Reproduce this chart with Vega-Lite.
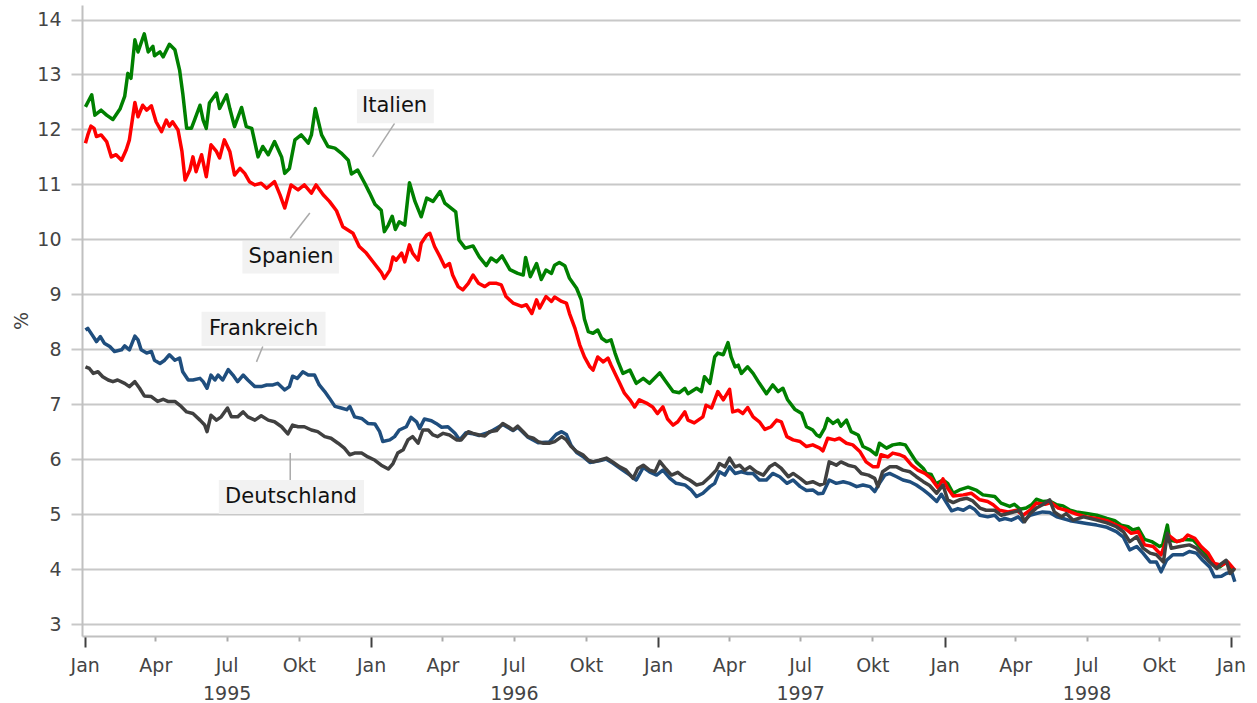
{
"$schema": "https://vega.github.io/schema/vega-lite/v6.json",
"width": 1158, "height": 631,
"autosize": {"type": "none"},
"padding": {"left": 82, "top": 5, "right": 17, "bottom": 67},
"background": "white",
"config": {"view": {"stroke": null}, "font": "DejaVu Sans"},
"datasets": {
"series": [
{"s":"Italien","date":"1995-01-02","value":12.41},{"s":"Italien","date":"1995-01-10","value":12.63},{"s":"Italien","date":"1995-01-14","value":12.26},{"s":"Italien","date":"1995-01-22","value":12.35},{"s":"Italien","date":"1995-01-29","value":12.26},{"s":"Italien","date":"1995-02-06","value":12.18},{"s":"Italien","date":"1995-02-15","value":12.37},{"s":"Italien","date":"1995-02-21","value":12.6},{"s":"Italien","date":"1995-02-25","value":13.02},{"s":"Italien","date":"1995-03-01","value":12.93},{"s":"Italien","date":"1995-03-06","value":13.63},{"s":"Italien","date":"1995-03-10","value":13.41},{"s":"Italien","date":"1995-03-18","value":13.74},{"s":"Italien","date":"1995-03-23","value":13.41},{"s":"Italien","date":"1995-03-29","value":13.51},{"s":"Italien","date":"1995-03-31","value":13.34},{"s":"Italien","date":"1995-04-07","value":13.41},{"s":"Italien","date":"1995-04-11","value":13.32},{"s":"Italien","date":"1995-04-19","value":13.55},{"s":"Italien","date":"1995-04-26","value":13.45},{"s":"Italien","date":"1995-05-02","value":13.08},{"s":"Italien","date":"1995-05-06","value":12.66},{"s":"Italien","date":"1995-05-11","value":12.02},{"s":"Italien","date":"1995-05-17","value":12.02},{"s":"Italien","date":"1995-05-21","value":12.17},{"s":"Italien","date":"1995-05-28","value":12.44},{"s":"Italien","date":"1995-06-01","value":12.17},{"s":"Italien","date":"1995-06-05","value":12.02},{"s":"Italien","date":"1995-06-09","value":12.48},{"s":"Italien","date":"1995-06-18","value":12.66},{"s":"Italien","date":"1995-06-22","value":12.38},{"s":"Italien","date":"1995-07-01","value":12.63},{"s":"Italien","date":"1995-07-05","value":12.38},{"s":"Italien","date":"1995-07-11","value":12.05},{"s":"Italien","date":"1995-07-20","value":12.4},{"s":"Italien","date":"1995-07-26","value":12.05},{"s":"Italien","date":"1995-08-02","value":12.02},{"s":"Italien","date":"1995-08-10","value":11.5},{"s":"Italien","date":"1995-08-16","value":11.69},{"s":"Italien","date":"1995-08-23","value":11.54},{"s":"Italien","date":"1995-08-31","value":11.78},{"s":"Italien","date":"1995-09-09","value":11.5},{"s":"Italien","date":"1995-09-13","value":11.2},{"s":"Italien","date":"1995-09-19","value":11.29},{"s":"Italien","date":"1995-09-26","value":11.81},{"s":"Italien","date":"1995-10-04","value":11.9},{"s":"Italien","date":"1995-10-13","value":11.75},{"s":"Italien","date":"1995-10-17","value":11.9},{"s":"Italien","date":"1995-10-22","value":12.38},{"s":"Italien","date":"1995-10-30","value":11.9},{"s":"Italien","date":"1995-11-07","value":11.69},{"s":"Italien","date":"1995-11-16","value":11.66},{"s":"Italien","date":"1995-11-24","value":11.57},{"s":"Italien","date":"1995-12-03","value":11.44},{"s":"Italien","date":"1995-12-07","value":11.19},{"s":"Italien","date":"1995-12-15","value":11.26},{"s":"Italien","date":"1995-12-24","value":11.02},{"s":"Italien","date":"1995-12-30","value":10.85},{"s":"Italien","date":"1996-01-06","value":10.64},{"s":"Italien","date":"1996-01-14","value":10.53},{"s":"Italien","date":"1996-01-18","value":10.14},{"s":"Italien","date":"1996-01-23","value":10.26},{"s":"Italien","date":"1996-01-28","value":10.42},{"s":"Italien","date":"1996-02-01","value":10.18},{"s":"Italien","date":"1996-02-06","value":10.32},{"s":"Italien","date":"1996-02-13","value":10.26},{"s":"Italien","date":"1996-02-19","value":11.03},{"s":"Italien","date":"1996-02-26","value":10.69},{"s":"Italien","date":"1996-03-05","value":10.41},{"s":"Italien","date":"1996-03-12","value":10.75},{"s":"Italien","date":"1996-03-20","value":10.69},{"s":"Italien","date":"1996-03-29","value":10.87},{"s":"Italien","date":"1996-04-04","value":10.66},{"s":"Italien","date":"1996-04-10","value":10.59},{"s":"Italien","date":"1996-04-18","value":10.5},{"s":"Italien","date":"1996-04-22","value":9.99},{"s":"Italien","date":"1996-04-30","value":9.84},{"s":"Italien","date":"1996-05-10","value":9.88},{"s":"Italien","date":"1996-05-18","value":9.68},{"s":"Italien","date":"1996-05-27","value":9.52},{"s":"Italien","date":"1996-06-02","value":9.66},{"s":"Italien","date":"1996-06-09","value":9.59},{"s":"Italien","date":"1996-06-16","value":9.7},{"s":"Italien","date":"1996-06-26","value":9.45},{"s":"Italien","date":"1996-07-06","value":9.38},{"s":"Italien","date":"1996-07-13","value":9.35},{"s":"Italien","date":"1996-07-16","value":9.67},{"s":"Italien","date":"1996-07-22","value":9.32},{"s":"Italien","date":"1996-07-30","value":9.56},{"s":"Italien","date":"1996-08-05","value":9.27},{"s":"Italien","date":"1996-08-11","value":9.44},{"s":"Italien","date":"1996-08-18","value":9.38},{"s":"Italien","date":"1996-08-22","value":9.53},{"s":"Italien","date":"1996-08-28","value":9.58},{"s":"Italien","date":"1996-09-04","value":9.52},{"s":"Italien","date":"1996-09-10","value":9.29},{"s":"Italien","date":"1996-09-19","value":9.11},{"s":"Italien","date":"1996-09-25","value":8.9},{"s":"Italien","date":"1996-09-29","value":8.55},{"s":"Italien","date":"1996-10-04","value":8.32},{"s":"Italien","date":"1996-10-10","value":8.29},{"s":"Italien","date":"1996-10-16","value":8.35},{"s":"Italien","date":"1996-10-21","value":8.2},{"s":"Italien","date":"1996-10-27","value":8.14},{"s":"Italien","date":"1996-11-02","value":8.17},{"s":"Italien","date":"1996-11-07","value":7.93},{"s":"Italien","date":"1996-11-11","value":7.77},{"s":"Italien","date":"1996-11-17","value":7.56},{"s":"Italien","date":"1996-11-26","value":7.62},{"s":"Italien","date":"1996-12-04","value":7.38},{"s":"Italien","date":"1996-12-13","value":7.47},{"s":"Italien","date":"1996-12-21","value":7.38},{"s":"Italien","date":"1997-01-03","value":7.57},{"s":"Italien","date":"1997-01-11","value":7.41},{"s":"Italien","date":"1997-01-20","value":7.23},{"s":"Italien","date":"1997-01-28","value":7.21},{"s":"Italien","date":"1997-02-04","value":7.29},{"s":"Italien","date":"1997-02-08","value":7.19},{"s":"Italien","date":"1997-02-19","value":7.29},{"s":"Italien","date":"1997-02-25","value":7.23},{"s":"Italien","date":"1997-03-01","value":7.5},{"s":"Italien","date":"1997-03-08","value":7.38},{"s":"Italien","date":"1997-03-14","value":7.86},{"s":"Italien","date":"1997-03-18","value":7.93},{"s":"Italien","date":"1997-03-25","value":7.9},{"s":"Italien","date":"1997-03-31","value":8.12},{"s":"Italien","date":"1997-04-04","value":7.86},{"s":"Italien","date":"1997-04-09","value":7.68},{"s":"Italien","date":"1997-04-13","value":7.71},{"s":"Italien","date":"1997-04-17","value":7.56},{"s":"Italien","date":"1997-04-25","value":7.68},{"s":"Italien","date":"1997-05-02","value":7.56},{"s":"Italien","date":"1997-05-10","value":7.38},{"s":"Italien","date":"1997-05-19","value":7.19},{"s":"Italien","date":"1997-05-27","value":7.35},{"s":"Italien","date":"1997-06-03","value":7.23},{"s":"Italien","date":"1997-06-09","value":7.29},{"s":"Italien","date":"1997-06-15","value":7.08},{"s":"Italien","date":"1997-06-24","value":6.91},{"s":"Italien","date":"1997-07-03","value":6.83},{"s":"Italien","date":"1997-07-09","value":6.59},{"s":"Italien","date":"1997-07-17","value":6.53},{"s":"Italien","date":"1997-07-22","value":6.44},{"s":"Italien","date":"1997-07-26","value":6.41},{"s":"Italien","date":"1997-08-01","value":6.56},{"s":"Italien","date":"1997-08-05","value":6.74},{"s":"Italien","date":"1997-08-12","value":6.65},{"s":"Italien","date":"1997-08-18","value":6.71},{"s":"Italien","date":"1997-08-22","value":6.6},{"s":"Italien","date":"1997-08-29","value":6.71},{"s":"Italien","date":"1997-09-04","value":6.5},{"s":"Italien","date":"1997-09-13","value":6.44},{"s":"Italien","date":"1997-09-19","value":6.23},{"s":"Italien","date":"1997-09-28","value":6.17},{"s":"Italien","date":"1997-10-06","value":6.08},{"s":"Italien","date":"1997-10-10","value":6.29},{"s":"Italien","date":"1997-10-19","value":6.2},{"s":"Italien","date":"1997-10-27","value":6.26},{"s":"Italien","date":"1997-11-05","value":6.28},{"s":"Italien","date":"1997-11-12","value":6.26},{"s":"Italien","date":"1997-11-20","value":6.08},{"s":"Italien","date":"1997-11-26","value":5.95},{"s":"Italien","date":"1997-12-05","value":5.83},{"s":"Italien","date":"1997-12-09","value":5.74},{"s":"Italien","date":"1997-12-15","value":5.72},{"s":"Italien","date":"1997-12-21","value":5.55},{"s":"Italien","date":"1997-12-30","value":5.62},{"s":"Italien","date":"1998-01-05","value":5.56},{"s":"Italien","date":"1998-01-12","value":5.38},{"s":"Italien","date":"1998-01-20","value":5.44},{"s":"Italien","date":"1998-01-31","value":5.49},{"s":"Italien","date":"1998-02-11","value":5.43},{"s":"Italien","date":"1998-02-19","value":5.35},{"s":"Italien","date":"1998-03-06","value":5.32},{"s":"Italien","date":"1998-03-14","value":5.2},{"s":"Italien","date":"1998-03-25","value":5.14},{"s":"Italien","date":"1998-03-31","value":5.18},{"s":"Italien","date":"1998-04-07","value":5.09},{"s":"Italien","date":"1998-04-15","value":5.11},{"s":"Italien","date":"1998-04-22","value":5.17},{"s":"Italien","date":"1998-04-28","value":5.27},{"s":"Italien","date":"1998-05-06","value":5.23},{"s":"Italien","date":"1998-05-15","value":5.24},{"s":"Italien","date":"1998-05-24","value":5.17},{"s":"Italien","date":"1998-06-01","value":5.15},{"s":"Italien","date":"1998-06-10","value":5.07},{"s":"Italien","date":"1998-06-18","value":5.04},{"s":"Italien","date":"1998-07-01","value":5.01},{"s":"Italien","date":"1998-07-14","value":4.98},{"s":"Italien","date":"1998-07-27","value":4.92},{"s":"Italien","date":"1998-08-06","value":4.88},{"s":"Italien","date":"1998-08-14","value":4.8},{"s":"Italien","date":"1998-08-23","value":4.77},{"s":"Italien","date":"1998-08-29","value":4.71},{"s":"Italien","date":"1998-09-05","value":4.74},{"s":"Italien","date":"1998-09-13","value":4.54},{"s":"Italien","date":"1998-09-22","value":4.5},{"s":"Italien","date":"1998-10-02","value":4.41},{"s":"Italien","date":"1998-10-06","value":4.44},{"s":"Italien","date":"1998-10-12","value":4.8},{"s":"Italien","date":"1998-10-15","value":4.53},{"s":"Italien","date":"1998-10-24","value":4.5},{"s":"Italien","date":"1998-11-03","value":4.54},{"s":"Italien","date":"1998-11-14","value":4.53},{"s":"Italien","date":"1998-11-22","value":4.41},{"s":"Italien","date":"1998-12-01","value":4.26},{"s":"Italien","date":"1998-12-09","value":4.1},{"s":"Italien","date":"1998-12-18","value":4.04},{"s":"Italien","date":"1998-12-26","value":4.13},{"s":"Italien","date":"1999-01-02","value":4.01},{"s":"Italien","date":"1999-01-06","value":3.98},
{"s":"Spanien","date":"1995-01-02","value":11.75},{"s":"Spanien","date":"1995-01-05","value":11.9},{"s":"Spanien","date":"1995-01-09","value":12.06},{"s":"Spanien","date":"1995-01-13","value":12.02},{"s":"Spanien","date":"1995-01-16","value":11.87},{"s":"Spanien","date":"1995-01-22","value":11.9},{"s":"Spanien","date":"1995-01-29","value":11.78},{"s":"Spanien","date":"1995-02-04","value":11.5},{"s":"Spanien","date":"1995-02-10","value":11.54},{"s":"Spanien","date":"1995-02-17","value":11.44},{"s":"Spanien","date":"1995-02-23","value":11.63},{"s":"Spanien","date":"1995-02-27","value":11.81},{"s":"Spanien","date":"1995-03-06","value":12.49},{"s":"Spanien","date":"1995-03-10","value":12.23},{"s":"Spanien","date":"1995-03-16","value":12.44},{"s":"Spanien","date":"1995-03-21","value":12.35},{"s":"Spanien","date":"1995-03-27","value":12.43},{"s":"Spanien","date":"1995-04-02","value":12.14},{"s":"Spanien","date":"1995-04-09","value":11.96},{"s":"Spanien","date":"1995-04-15","value":12.17},{"s":"Spanien","date":"1995-04-19","value":12.06},{"s":"Spanien","date":"1995-04-23","value":12.14},{"s":"Spanien","date":"1995-04-30","value":11.99},{"s":"Spanien","date":"1995-05-05","value":11.6},{"s":"Spanien","date":"1995-05-09","value":11.08},{"s":"Spanien","date":"1995-05-15","value":11.26},{"s":"Spanien","date":"1995-05-19","value":11.5},{"s":"Spanien","date":"1995-05-23","value":11.23},{"s":"Spanien","date":"1995-05-30","value":11.54},{"s":"Spanien","date":"1995-06-05","value":11.14},{"s":"Spanien","date":"1995-06-11","value":11.72},{"s":"Spanien","date":"1995-06-18","value":11.6},{"s":"Spanien","date":"1995-06-22","value":11.48},{"s":"Spanien","date":"1995-06-28","value":11.81},{"s":"Spanien","date":"1995-07-05","value":11.6},{"s":"Spanien","date":"1995-07-11","value":11.17},{"s":"Spanien","date":"1995-07-18","value":11.29},{"s":"Spanien","date":"1995-07-24","value":11.2},{"s":"Spanien","date":"1995-07-30","value":11.05},{"s":"Spanien","date":"1995-08-06","value":10.99},{"s":"Spanien","date":"1995-08-14","value":11.02},{"s":"Spanien","date":"1995-08-21","value":10.93},{"s":"Spanien","date":"1995-08-31","value":11.05},{"s":"Spanien","date":"1995-09-07","value":10.81},{"s":"Spanien","date":"1995-09-13","value":10.57},{"s":"Spanien","date":"1995-09-21","value":10.99},{"s":"Spanien","date":"1995-09-30","value":10.9},{"s":"Spanien","date":"1995-10-08","value":10.99},{"s":"Spanien","date":"1995-10-17","value":10.84},{"s":"Spanien","date":"1995-10-23","value":10.99},{"s":"Spanien","date":"1995-11-01","value":10.81},{"s":"Spanien","date":"1995-11-09","value":10.69},{"s":"Spanien","date":"1995-11-18","value":10.52},{"s":"Spanien","date":"1995-11-26","value":10.23},{"s":"Spanien","date":"1995-12-09","value":10.11},{"s":"Spanien","date":"1995-12-17","value":9.87},{"s":"Spanien","date":"1995-12-26","value":9.75},{"s":"Spanien","date":"1996-01-03","value":9.6},{"s":"Spanien","date":"1996-01-14","value":9.4},{"s":"Spanien","date":"1996-01-18","value":9.29},{"s":"Spanien","date":"1996-01-25","value":9.44},{"s":"Spanien","date":"1996-01-29","value":9.68},{"s":"Spanien","date":"1996-02-02","value":9.62},{"s":"Spanien","date":"1996-02-09","value":9.75},{"s":"Spanien","date":"1996-02-13","value":9.59},{"s":"Spanien","date":"1996-02-19","value":9.9},{"s":"Spanien","date":"1996-02-23","value":9.75},{"s":"Spanien","date":"1996-03-01","value":9.62},{"s":"Spanien","date":"1996-03-05","value":9.93},{"s":"Spanien","date":"1996-03-12","value":10.08},{"s":"Spanien","date":"1996-03-16","value":10.11},{"s":"Spanien","date":"1996-03-22","value":9.87},{"s":"Spanien","date":"1996-03-29","value":9.68},{"s":"Spanien","date":"1996-04-04","value":9.5},{"s":"Spanien","date":"1996-04-10","value":9.56},{"s":"Spanien","date":"1996-04-14","value":9.35},{"s":"Spanien","date":"1996-04-21","value":9.14},{"s":"Spanien","date":"1996-04-27","value":9.08},{"s":"Spanien","date":"1996-05-04","value":9.2},{"s":"Spanien","date":"1996-05-10","value":9.35},{"s":"Spanien","date":"1996-05-17","value":9.2},{"s":"Spanien","date":"1996-05-25","value":9.14},{"s":"Spanien","date":"1996-05-31","value":9.2},{"s":"Spanien","date":"1996-06-09","value":9.2},{"s":"Spanien","date":"1996-06-15","value":9.17},{"s":"Spanien","date":"1996-06-21","value":8.96},{"s":"Spanien","date":"1996-06-30","value":8.84},{"s":"Spanien","date":"1996-07-11","value":8.78},{"s":"Spanien","date":"1996-07-17","value":8.81},{"s":"Spanien","date":"1996-07-24","value":8.65},{"s":"Spanien","date":"1996-07-30","value":8.9},{"s":"Spanien","date":"1996-08-03","value":8.75},{"s":"Spanien","date":"1996-08-11","value":8.96},{"s":"Spanien","date":"1996-08-18","value":8.87},{"s":"Spanien","date":"1996-08-22","value":8.95},{"s":"Spanien","date":"1996-08-31","value":8.87},{"s":"Spanien","date":"1996-09-06","value":8.84},{"s":"Spanien","date":"1996-09-10","value":8.65},{"s":"Spanien","date":"1996-09-17","value":8.38},{"s":"Spanien","date":"1996-09-23","value":8.08},{"s":"Spanien","date":"1996-09-29","value":7.86},{"s":"Spanien","date":"1996-10-06","value":7.68},{"s":"Spanien","date":"1996-10-10","value":7.62},{"s":"Spanien","date":"1996-10-16","value":7.86},{"s":"Spanien","date":"1996-10-23","value":7.77},{"s":"Spanien","date":"1996-10-29","value":7.84},{"s":"Spanien","date":"1996-11-02","value":7.71},{"s":"Spanien","date":"1996-11-07","value":7.56},{"s":"Spanien","date":"1996-11-13","value":7.38},{"s":"Spanien","date":"1996-11-19","value":7.2},{"s":"Spanien","date":"1996-11-26","value":7.08},{"s":"Spanien","date":"1996-12-02","value":6.95},{"s":"Spanien","date":"1996-12-08","value":7.08},{"s":"Spanien","date":"1996-12-17","value":7.02},{"s":"Spanien","date":"1996-12-25","value":6.95},{"s":"Spanien","date":"1996-12-31","value":6.83},{"s":"Spanien","date":"1997-01-07","value":6.95},{"s":"Spanien","date":"1997-01-13","value":6.73},{"s":"Spanien","date":"1997-01-20","value":6.62},{"s":"Spanien","date":"1997-01-26","value":6.68},{"s":"Spanien","date":"1997-02-04","value":6.86},{"s":"Spanien","date":"1997-02-08","value":6.71},{"s":"Spanien","date":"1997-02-16","value":6.66},{"s":"Spanien","date":"1997-02-27","value":6.77},{"s":"Spanien","date":"1997-03-03","value":6.98},{"s":"Spanien","date":"1997-03-10","value":6.93},{"s":"Spanien","date":"1997-03-18","value":7.23},{"s":"Spanien","date":"1997-03-25","value":7.08},{"s":"Spanien","date":"1997-04-02","value":7.27},{"s":"Spanien","date":"1997-04-06","value":6.86},{"s":"Spanien","date":"1997-04-13","value":6.89},{"s":"Spanien","date":"1997-04-19","value":6.83},{"s":"Spanien","date":"1997-04-25","value":6.94},{"s":"Spanien","date":"1997-05-02","value":6.77},{"s":"Spanien","date":"1997-05-10","value":6.68},{"s":"Spanien","date":"1997-05-17","value":6.54},{"s":"Spanien","date":"1997-05-25","value":6.59},{"s":"Spanien","date":"1997-06-01","value":6.71},{"s":"Spanien","date":"1997-06-07","value":6.68},{"s":"Spanien","date":"1997-06-14","value":6.41},{"s":"Spanien","date":"1997-06-22","value":6.35},{"s":"Spanien","date":"1997-07-01","value":6.32},{"s":"Spanien","date":"1997-07-09","value":6.23},{"s":"Spanien","date":"1997-07-17","value":6.26},{"s":"Spanien","date":"1997-07-26","value":6.2},{"s":"Spanien","date":"1997-07-30","value":6.15},{"s":"Spanien","date":"1997-08-05","value":6.38},{"s":"Spanien","date":"1997-08-14","value":6.35},{"s":"Spanien","date":"1997-08-20","value":6.38},{"s":"Spanien","date":"1997-08-29","value":6.29},{"s":"Spanien","date":"1997-09-06","value":6.26},{"s":"Spanien","date":"1997-09-15","value":6.14},{"s":"Spanien","date":"1997-09-23","value":5.95},{"s":"Spanien","date":"1997-10-02","value":5.86},{"s":"Spanien","date":"1997-10-08","value":5.86},{"s":"Spanien","date":"1997-10-12","value":6.08},{"s":"Spanien","date":"1997-10-21","value":6.04},{"s":"Spanien","date":"1997-10-27","value":6.11},{"s":"Spanien","date":"1997-11-05","value":6.08},{"s":"Spanien","date":"1997-11-11","value":6.04},{"s":"Spanien","date":"1997-11-20","value":5.89},{"s":"Spanien","date":"1997-11-28","value":5.8},{"s":"Spanien","date":"1997-12-07","value":5.74},{"s":"Spanien","date":"1997-12-15","value":5.65},{"s":"Spanien","date":"1997-12-24","value":5.47},{"s":"Spanien","date":"1997-12-30","value":5.64},{"s":"Spanien","date":"1998-01-05","value":5.47},{"s":"Spanien","date":"1998-01-12","value":5.33},{"s":"Spanien","date":"1998-01-25","value":5.35},{"s":"Spanien","date":"1998-02-04","value":5.38},{"s":"Spanien","date":"1998-02-15","value":5.26},{"s":"Spanien","date":"1998-02-25","value":5.23},{"s":"Spanien","date":"1998-03-04","value":5.17},{"s":"Spanien","date":"1998-03-12","value":5.07},{"s":"Spanien","date":"1998-03-23","value":5.04},{"s":"Spanien","date":"1998-04-03","value":5.07},{"s":"Spanien","date":"1998-04-11","value":4.98},{"s":"Spanien","date":"1998-04-20","value":5.07},{"s":"Spanien","date":"1998-04-28","value":5.2},{"s":"Spanien","date":"1998-05-09","value":5.18},{"s":"Spanien","date":"1998-05-17","value":5.21},{"s":"Spanien","date":"1998-05-26","value":5.11},{"s":"Spanien","date":"1998-06-05","value":5.07},{"s":"Spanien","date":"1998-06-18","value":5.0},{"s":"Spanien","date":"1998-07-01","value":4.95},{"s":"Spanien","date":"1998-07-14","value":4.92},{"s":"Spanien","date":"1998-07-27","value":4.88},{"s":"Spanien","date":"1998-08-08","value":4.8},{"s":"Spanien","date":"1998-08-19","value":4.74},{"s":"Spanien","date":"1998-08-27","value":4.65},{"s":"Spanien","date":"1998-09-05","value":4.68},{"s":"Spanien","date":"1998-09-13","value":4.44},{"s":"Spanien","date":"1998-09-24","value":4.41},{"s":"Spanien","date":"1998-10-04","value":4.26},{"s":"Spanien","date":"1998-10-13","value":4.62},{"s":"Spanien","date":"1998-10-24","value":4.5},{"s":"Spanien","date":"1998-11-01","value":4.53},{"s":"Spanien","date":"1998-11-07","value":4.62},{"s":"Spanien","date":"1998-11-16","value":4.56},{"s":"Spanien","date":"1998-11-24","value":4.41},{"s":"Spanien","date":"1998-12-03","value":4.29},{"s":"Spanien","date":"1998-12-11","value":4.1},{"s":"Spanien","date":"1998-12-20","value":4.07},{"s":"Spanien","date":"1998-12-28","value":4.13},{"s":"Spanien","date":"1999-01-06","value":3.98},
{"s":"Frankreich","date":"1995-01-02","value":8.35},{"s":"Frankreich","date":"1995-01-05","value":8.38},{"s":"Frankreich","date":"1995-01-12","value":8.23},{"s":"Frankreich","date":"1995-01-16","value":8.14},{"s":"Frankreich","date":"1995-01-21","value":8.23},{"s":"Frankreich","date":"1995-01-26","value":8.11},{"s":"Frankreich","date":"1995-02-02","value":8.05},{"s":"Frankreich","date":"1995-02-08","value":7.96},{"s":"Frankreich","date":"1995-02-17","value":7.99},{"s":"Frankreich","date":"1995-02-21","value":8.06},{"s":"Frankreich","date":"1995-02-27","value":7.99},{"s":"Frankreich","date":"1995-03-06","value":8.24},{"s":"Frankreich","date":"1995-03-10","value":8.17},{"s":"Frankreich","date":"1995-03-14","value":7.99},{"s":"Frankreich","date":"1995-03-21","value":7.93},{"s":"Frankreich","date":"1995-03-27","value":7.96},{"s":"Frankreich","date":"1995-03-31","value":7.8},{"s":"Frankreich","date":"1995-04-07","value":7.74},{"s":"Frankreich","date":"1995-04-13","value":7.8},{"s":"Frankreich","date":"1995-04-19","value":7.9},{"s":"Frankreich","date":"1995-04-26","value":7.8},{"s":"Frankreich","date":"1995-05-02","value":7.84},{"s":"Frankreich","date":"1995-05-06","value":7.59},{"s":"Frankreich","date":"1995-05-13","value":7.44},{"s":"Frankreich","date":"1995-05-19","value":7.44},{"s":"Frankreich","date":"1995-05-28","value":7.47},{"s":"Frankreich","date":"1995-06-01","value":7.41},{"s":"Frankreich","date":"1995-06-06","value":7.29},{"s":"Frankreich","date":"1995-06-11","value":7.53},{"s":"Frankreich","date":"1995-06-16","value":7.44},{"s":"Frankreich","date":"1995-06-20","value":7.53},{"s":"Frankreich","date":"1995-06-26","value":7.44},{"s":"Frankreich","date":"1995-07-03","value":7.63},{"s":"Frankreich","date":"1995-07-09","value":7.53},{"s":"Frankreich","date":"1995-07-15","value":7.41},{"s":"Frankreich","date":"1995-07-22","value":7.53},{"s":"Frankreich","date":"1995-07-28","value":7.44},{"s":"Frankreich","date":"1995-08-06","value":7.32},{"s":"Frankreich","date":"1995-08-14","value":7.32},{"s":"Frankreich","date":"1995-08-21","value":7.35},{"s":"Frankreich","date":"1995-08-29","value":7.35},{"s":"Frankreich","date":"1995-09-04","value":7.38},{"s":"Frankreich","date":"1995-09-13","value":7.26},{"s":"Frankreich","date":"1995-09-19","value":7.32},{"s":"Frankreich","date":"1995-09-23","value":7.51},{"s":"Frankreich","date":"1995-09-29","value":7.47},{"s":"Frankreich","date":"1995-10-06","value":7.59},{"s":"Frankreich","date":"1995-10-13","value":7.53},{"s":"Frankreich","date":"1995-10-21","value":7.53},{"s":"Frankreich","date":"1995-10-27","value":7.35},{"s":"Frankreich","date":"1995-11-03","value":7.23},{"s":"Frankreich","date":"1995-11-09","value":7.11},{"s":"Frankreich","date":"1995-11-16","value":6.96},{"s":"Frankreich","date":"1995-11-24","value":6.93},{"s":"Frankreich","date":"1995-12-01","value":6.9},{"s":"Frankreich","date":"1995-12-05","value":6.96},{"s":"Frankreich","date":"1995-12-11","value":6.77},{"s":"Frankreich","date":"1995-12-20","value":6.74},{"s":"Frankreich","date":"1995-12-28","value":6.65},{"s":"Frankreich","date":"1996-01-06","value":6.64},{"s":"Frankreich","date":"1996-01-12","value":6.5},{"s":"Frankreich","date":"1996-01-16","value":6.32},{"s":"Frankreich","date":"1996-01-25","value":6.35},{"s":"Frankreich","date":"1996-01-31","value":6.41},{"s":"Frankreich","date":"1996-02-06","value":6.53},{"s":"Frankreich","date":"1996-02-15","value":6.59},{"s":"Frankreich","date":"1996-02-21","value":6.76},{"s":"Frankreich","date":"1996-02-28","value":6.68},{"s":"Frankreich","date":"1996-03-03","value":6.56},{"s":"Frankreich","date":"1996-03-09","value":6.73},{"s":"Frankreich","date":"1996-03-18","value":6.7},{"s":"Frankreich","date":"1996-03-24","value":6.65},{"s":"Frankreich","date":"1996-03-31","value":6.58},{"s":"Frankreich","date":"1996-04-08","value":6.59},{"s":"Frankreich","date":"1996-04-17","value":6.47},{"s":"Frankreich","date":"1996-04-23","value":6.35},{"s":"Frankreich","date":"1996-05-01","value":6.48},{"s":"Frankreich","date":"1996-05-10","value":6.46},{"s":"Frankreich","date":"1996-05-18","value":6.43},{"s":"Frankreich","date":"1996-05-31","value":6.49},{"s":"Frankreich","date":"1996-06-17","value":6.63},{"s":"Frankreich","date":"1996-06-30","value":6.52},{"s":"Frankreich","date":"1996-07-06","value":6.58},{"s":"Frankreich","date":"1996-07-19","value":6.4},{"s":"Frankreich","date":"1996-08-01","value":6.3},{"s":"Frankreich","date":"1996-08-15","value":6.31},{"s":"Frankreich","date":"1996-08-24","value":6.45},{"s":"Frankreich","date":"1996-08-31","value":6.5},{"s":"Frankreich","date":"1996-09-06","value":6.45},{"s":"Frankreich","date":"1996-09-12","value":6.25},{"s":"Frankreich","date":"1996-09-19","value":6.12},{"s":"Frankreich","date":"1996-09-27","value":6.05},{"s":"Frankreich","date":"1996-10-06","value":5.94},{"s":"Frankreich","date":"1996-10-18","value":5.97},{"s":"Frankreich","date":"1996-10-27","value":6.0},{"s":"Frankreich","date":"1996-11-04","value":5.93},{"s":"Frankreich","date":"1996-11-13","value":5.84},{"s":"Frankreich","date":"1996-11-26","value":5.71},{"s":"Frankreich","date":"1996-12-04","value":5.62},{"s":"Frankreich","date":"1996-12-13","value":5.85},{"s":"Frankreich","date":"1996-12-21","value":5.77},{"s":"Frankreich","date":"1996-12-30","value":5.71},{"s":"Frankreich","date":"1997-01-07","value":5.8},{"s":"Frankreich","date":"1997-01-16","value":5.65},{"s":"Frankreich","date":"1997-01-24","value":5.56},{"s":"Frankreich","date":"1997-02-04","value":5.53},{"s":"Frankreich","date":"1997-02-12","value":5.44},{"s":"Frankreich","date":"1997-02-19","value":5.32},{"s":"Frankreich","date":"1997-02-27","value":5.38},{"s":"Frankreich","date":"1997-03-08","value":5.5},{"s":"Frankreich","date":"1997-03-14","value":5.56},{"s":"Frankreich","date":"1997-03-20","value":5.77},{"s":"Frankreich","date":"1997-03-27","value":5.71},{"s":"Frankreich","date":"1997-04-02","value":5.86},{"s":"Frankreich","date":"1997-04-09","value":5.74},{"s":"Frankreich","date":"1997-04-17","value":5.77},{"s":"Frankreich","date":"1997-04-25","value":5.74},{"s":"Frankreich","date":"1997-05-02","value":5.74},{"s":"Frankreich","date":"1997-05-10","value":5.62},{"s":"Frankreich","date":"1997-05-19","value":5.62},{"s":"Frankreich","date":"1997-05-27","value":5.74},{"s":"Frankreich","date":"1997-06-05","value":5.68},{"s":"Frankreich","date":"1997-06-14","value":5.56},{"s":"Frankreich","date":"1997-06-22","value":5.62},{"s":"Frankreich","date":"1997-07-01","value":5.5},{"s":"Frankreich","date":"1997-07-09","value":5.43},{"s":"Frankreich","date":"1997-07-17","value":5.44},{"s":"Frankreich","date":"1997-07-24","value":5.37},{"s":"Frankreich","date":"1997-07-30","value":5.38},{"s":"Frankreich","date":"1997-08-07","value":5.62},{"s":"Frankreich","date":"1997-08-16","value":5.56},{"s":"Frankreich","date":"1997-08-25","value":5.59},{"s":"Frankreich","date":"1997-09-02","value":5.56},{"s":"Frankreich","date":"1997-09-11","value":5.5},{"s":"Frankreich","date":"1997-09-19","value":5.53},{"s":"Frankreich","date":"1997-09-28","value":5.5},{"s":"Frankreich","date":"1997-10-04","value":5.41},{"s":"Frankreich","date":"1997-10-10","value":5.56},{"s":"Frankreich","date":"1997-10-17","value":5.71},{"s":"Frankreich","date":"1997-10-23","value":5.74},{"s":"Frankreich","date":"1997-11-01","value":5.68},{"s":"Frankreich","date":"1997-11-09","value":5.62},{"s":"Frankreich","date":"1997-11-18","value":5.59},{"s":"Frankreich","date":"1997-11-26","value":5.53},{"s":"Frankreich","date":"1997-12-05","value":5.44},{"s":"Frankreich","date":"1997-12-13","value":5.35},{"s":"Frankreich","date":"1997-12-22","value":5.23},{"s":"Frankreich","date":"1997-12-28","value":5.36},{"s":"Frankreich","date":"1998-01-03","value":5.22},{"s":"Frankreich","date":"1998-01-10","value":5.06},{"s":"Frankreich","date":"1998-01-18","value":5.1},{"s":"Frankreich","date":"1998-01-25","value":5.07},{"s":"Frankreich","date":"1998-02-02","value":5.14},{"s":"Frankreich","date":"1998-02-08","value":5.09},{"s":"Frankreich","date":"1998-02-15","value":4.98},{"s":"Frankreich","date":"1998-02-25","value":4.95},{"s":"Frankreich","date":"1998-03-06","value":4.98},{"s":"Frankreich","date":"1998-03-12","value":4.89},{"s":"Frankreich","date":"1998-03-19","value":4.92},{"s":"Frankreich","date":"1998-03-27","value":4.89},{"s":"Frankreich","date":"1998-04-05","value":4.95},{"s":"Frankreich","date":"1998-04-11","value":4.86},{"s":"Frankreich","date":"1998-04-20","value":4.98},{"s":"Frankreich","date":"1998-04-28","value":5.01},{"s":"Frankreich","date":"1998-05-06","value":5.04},{"s":"Frankreich","date":"1998-05-15","value":5.03},{"s":"Frankreich","date":"1998-05-24","value":4.95},{"s":"Frankreich","date":"1998-06-01","value":4.92},{"s":"Frankreich","date":"1998-06-10","value":4.88},{"s":"Frankreich","date":"1998-06-18","value":4.86},{"s":"Frankreich","date":"1998-07-01","value":4.83},{"s":"Frankreich","date":"1998-07-14","value":4.8},{"s":"Frankreich","date":"1998-07-27","value":4.76},{"s":"Frankreich","date":"1998-08-08","value":4.68},{"s":"Frankreich","date":"1998-08-17","value":4.58},{"s":"Frankreich","date":"1998-08-25","value":4.35},{"s":"Frankreich","date":"1998-09-03","value":4.41},{"s":"Frankreich","date":"1998-09-11","value":4.29},{"s":"Frankreich","date":"1998-09-20","value":4.13},{"s":"Frankreich","date":"1998-09-28","value":4.13},{"s":"Frankreich","date":"1998-10-04","value":3.95},{"s":"Frankreich","date":"1998-10-11","value":4.16},{"s":"Frankreich","date":"1998-10-19","value":4.26},{"s":"Frankreich","date":"1998-11-01","value":4.26},{"s":"Frankreich","date":"1998-11-09","value":4.32},{"s":"Frankreich","date":"1998-11-18","value":4.29},{"s":"Frankreich","date":"1998-11-26","value":4.16},{"s":"Frankreich","date":"1998-12-05","value":4.04},{"s":"Frankreich","date":"1998-12-11","value":3.86},{"s":"Frankreich","date":"1998-12-20","value":3.87},{"s":"Frankreich","date":"1998-12-26","value":3.92},{"s":"Frankreich","date":"1999-01-02","value":3.95},{"s":"Frankreich","date":"1999-01-06","value":3.77},
{"s":"Deutschland","date":"1995-01-02","value":7.68},{"s":"Deutschland","date":"1995-01-07","value":7.65},{"s":"Deutschland","date":"1995-01-12","value":7.56},{"s":"Deutschland","date":"1995-01-18","value":7.59},{"s":"Deutschland","date":"1995-01-24","value":7.5},{"s":"Deutschland","date":"1995-01-31","value":7.44},{"s":"Deutschland","date":"1995-02-06","value":7.41},{"s":"Deutschland","date":"1995-02-12","value":7.44},{"s":"Deutschland","date":"1995-02-21","value":7.38},{"s":"Deutschland","date":"1995-02-27","value":7.32},{"s":"Deutschland","date":"1995-03-06","value":7.41},{"s":"Deutschland","date":"1995-03-12","value":7.29},{"s":"Deutschland","date":"1995-03-18","value":7.15},{"s":"Deutschland","date":"1995-03-27","value":7.14},{"s":"Deutschland","date":"1995-04-04","value":7.05},{"s":"Deutschland","date":"1995-04-11","value":7.09},{"s":"Deutschland","date":"1995-04-17","value":7.05},{"s":"Deutschland","date":"1995-04-26","value":7.05},{"s":"Deutschland","date":"1995-05-04","value":6.96},{"s":"Deutschland","date":"1995-05-11","value":6.86},{"s":"Deutschland","date":"1995-05-19","value":6.83},{"s":"Deutschland","date":"1995-05-28","value":6.71},{"s":"Deutschland","date":"1995-06-03","value":6.62},{"s":"Deutschland","date":"1995-06-06","value":6.5},{"s":"Deutschland","date":"1995-06-11","value":6.8},{"s":"Deutschland","date":"1995-06-18","value":6.71},{"s":"Deutschland","date":"1995-06-24","value":6.77},{"s":"Deutschland","date":"1995-07-02","value":6.93},{"s":"Deutschland","date":"1995-07-07","value":6.77},{"s":"Deutschland","date":"1995-07-15","value":6.77},{"s":"Deutschland","date":"1995-07-22","value":6.86},{"s":"Deutschland","date":"1995-07-28","value":6.77},{"s":"Deutschland","date":"1995-08-06","value":6.71},{"s":"Deutschland","date":"1995-08-14","value":6.79},{"s":"Deutschland","date":"1995-08-23","value":6.71},{"s":"Deutschland","date":"1995-08-31","value":6.68},{"s":"Deutschland","date":"1995-09-09","value":6.59},{"s":"Deutschland","date":"1995-09-17","value":6.46},{"s":"Deutschland","date":"1995-09-23","value":6.62},{"s":"Deutschland","date":"1995-09-30","value":6.59},{"s":"Deutschland","date":"1995-10-08","value":6.59},{"s":"Deutschland","date":"1995-10-17","value":6.53},{"s":"Deutschland","date":"1995-10-25","value":6.5},{"s":"Deutschland","date":"1995-11-03","value":6.41},{"s":"Deutschland","date":"1995-11-11","value":6.38},{"s":"Deutschland","date":"1995-11-20","value":6.29},{"s":"Deutschland","date":"1995-11-28","value":6.2},{"s":"Deutschland","date":"1995-12-05","value":6.08},{"s":"Deutschland","date":"1995-12-11","value":6.11},{"s":"Deutschland","date":"1995-12-20","value":6.11},{"s":"Deutschland","date":"1995-12-28","value":6.04},{"s":"Deutschland","date":"1996-01-06","value":5.98},{"s":"Deutschland","date":"1996-01-14","value":5.89},{"s":"Deutschland","date":"1996-01-23","value":5.82},{"s":"Deutschland","date":"1996-01-29","value":5.92},{"s":"Deutschland","date":"1996-02-04","value":6.11},{"s":"Deutschland","date":"1996-02-11","value":6.17},{"s":"Deutschland","date":"1996-02-17","value":6.35},{"s":"Deutschland","date":"1996-02-23","value":6.41},{"s":"Deutschland","date":"1996-03-01","value":6.29},{"s":"Deutschland","date":"1996-03-07","value":6.53},{"s":"Deutschland","date":"1996-03-14","value":6.53},{"s":"Deutschland","date":"1996-03-20","value":6.44},{"s":"Deutschland","date":"1996-03-26","value":6.41},{"s":"Deutschland","date":"1996-04-02","value":6.47},{"s":"Deutschland","date":"1996-04-10","value":6.44},{"s":"Deutschland","date":"1996-04-19","value":6.35},{"s":"Deutschland","date":"1996-04-25","value":6.35},{"s":"Deutschland","date":"1996-05-04","value":6.5},{"s":"Deutschland","date":"1996-05-10","value":6.47},{"s":"Deutschland","date":"1996-05-18","value":6.44},{"s":"Deutschland","date":"1996-05-25","value":6.42},{"s":"Deutschland","date":"1996-05-31","value":6.5},{"s":"Deutschland","date":"1996-06-09","value":6.52},{"s":"Deutschland","date":"1996-06-17","value":6.65},{"s":"Deutschland","date":"1996-06-24","value":6.59},{"s":"Deutschland","date":"1996-06-30","value":6.53},{"s":"Deutschland","date":"1996-07-06","value":6.6},{"s":"Deutschland","date":"1996-07-13","value":6.5},{"s":"Deutschland","date":"1996-07-19","value":6.41},{"s":"Deutschland","date":"1996-07-26","value":6.38},{"s":"Deutschland","date":"1996-08-01","value":6.32},{"s":"Deutschland","date":"1996-08-07","value":6.29},{"s":"Deutschland","date":"1996-08-15","value":6.29},{"s":"Deutschland","date":"1996-08-22","value":6.32},{"s":"Deutschland","date":"1996-08-31","value":6.41},{"s":"Deutschland","date":"1996-09-06","value":6.35},{"s":"Deutschland","date":"1996-09-12","value":6.23},{"s":"Deutschland","date":"1996-09-19","value":6.14},{"s":"Deutschland","date":"1996-09-27","value":6.08},{"s":"Deutschland","date":"1996-10-04","value":5.98},{"s":"Deutschland","date":"1996-10-10","value":5.95},{"s":"Deutschland","date":"1996-10-18","value":5.98},{"s":"Deutschland","date":"1996-10-27","value":6.02},{"s":"Deutschland","date":"1996-11-04","value":5.95},{"s":"Deutschland","date":"1996-11-13","value":5.86},{"s":"Deutschland","date":"1996-11-21","value":5.8},{"s":"Deutschland","date":"1996-11-30","value":5.65},{"s":"Deutschland","date":"1996-12-06","value":5.83},{"s":"Deutschland","date":"1996-12-13","value":5.89},{"s":"Deutschland","date":"1996-12-21","value":5.8},{"s":"Deutschland","date":"1996-12-28","value":5.77},{"s":"Deutschland","date":"1997-01-03","value":5.96},{"s":"Deutschland","date":"1997-01-11","value":5.82},{"s":"Deutschland","date":"1997-01-18","value":5.71},{"s":"Deutschland","date":"1997-01-26","value":5.76},{"s":"Deutschland","date":"1997-02-02","value":5.68},{"s":"Deutschland","date":"1997-02-10","value":5.62},{"s":"Deutschland","date":"1997-02-19","value":5.53},{"s":"Deutschland","date":"1997-02-27","value":5.56},{"s":"Deutschland","date":"1997-03-08","value":5.68},{"s":"Deutschland","date":"1997-03-16","value":5.8},{"s":"Deutschland","date":"1997-03-20","value":5.92},{"s":"Deutschland","date":"1997-03-27","value":5.86},{"s":"Deutschland","date":"1997-04-02","value":6.02},{"s":"Deutschland","date":"1997-04-09","value":5.86},{"s":"Deutschland","date":"1997-04-15","value":5.89},{"s":"Deutschland","date":"1997-04-21","value":5.8},{"s":"Deutschland","date":"1997-04-28","value":5.86},{"s":"Deutschland","date":"1997-05-06","value":5.77},{"s":"Deutschland","date":"1997-05-15","value":5.71},{"s":"Deutschland","date":"1997-05-23","value":5.86},{"s":"Deutschland","date":"1997-05-30","value":5.92},{"s":"Deutschland","date":"1997-06-07","value":5.83},{"s":"Deutschland","date":"1997-06-16","value":5.68},{"s":"Deutschland","date":"1997-06-22","value":5.74},{"s":"Deutschland","date":"1997-07-01","value":5.65},{"s":"Deutschland","date":"1997-07-09","value":5.56},{"s":"Deutschland","date":"1997-07-17","value":5.59},{"s":"Deutschland","date":"1997-07-26","value":5.53},{"s":"Deutschland","date":"1997-08-01","value":5.56},{"s":"Deutschland","date":"1997-08-07","value":5.95},{"s":"Deutschland","date":"1997-08-16","value":5.89},{"s":"Deutschland","date":"1997-08-22","value":5.95},{"s":"Deutschland","date":"1997-08-31","value":5.89},{"s":"Deutschland","date":"1997-09-09","value":5.86},{"s":"Deutschland","date":"1997-09-17","value":5.74},{"s":"Deutschland","date":"1997-09-26","value":5.71},{"s":"Deutschland","date":"1997-10-04","value":5.65},{"s":"Deutschland","date":"1997-10-08","value":5.5},{"s":"Deutschland","date":"1997-10-14","value":5.77},{"s":"Deutschland","date":"1997-10-23","value":5.86},{"s":"Deutschland","date":"1997-11-01","value":5.86},{"s":"Deutschland","date":"1997-11-09","value":5.8},{"s":"Deutschland","date":"1997-11-18","value":5.77},{"s":"Deutschland","date":"1997-11-26","value":5.68},{"s":"Deutschland","date":"1997-12-05","value":5.59},{"s":"Deutschland","date":"1997-12-13","value":5.52},{"s":"Deutschland","date":"1997-12-22","value":5.38},{"s":"Deutschland","date":"1997-12-30","value":5.53},{"s":"Deutschland","date":"1998-01-05","value":5.26},{"s":"Deutschland","date":"1998-01-12","value":5.21},{"s":"Deutschland","date":"1998-01-20","value":5.26},{"s":"Deutschland","date":"1998-01-29","value":5.29},{"s":"Deutschland","date":"1998-02-06","value":5.24},{"s":"Deutschland","date":"1998-02-15","value":5.11},{"s":"Deutschland","date":"1998-02-23","value":5.07},{"s":"Deutschland","date":"1998-03-06","value":5.07},{"s":"Deutschland","date":"1998-03-14","value":4.98},{"s":"Deutschland","date":"1998-03-23","value":5.01},{"s":"Deutschland","date":"1998-03-31","value":5.04},{"s":"Deutschland","date":"1998-04-07","value":5.07},{"s":"Deutschland","date":"1998-04-13","value":4.86},{"s":"Deutschland","date":"1998-04-20","value":5.01},{"s":"Deutschland","date":"1998-04-28","value":5.11},{"s":"Deutschland","date":"1998-05-06","value":5.17},{"s":"Deutschland","date":"1998-05-15","value":5.26},{"s":"Deutschland","date":"1998-05-21","value":5.04},{"s":"Deutschland","date":"1998-05-30","value":4.95},{"s":"Deutschland","date":"1998-06-05","value":5.01},{"s":"Deutschland","date":"1998-06-14","value":4.89},{"s":"Deutschland","date":"1998-06-27","value":4.95},{"s":"Deutschland","date":"1998-07-14","value":4.89},{"s":"Deutschland","date":"1998-07-27","value":4.84},{"s":"Deutschland","date":"1998-08-08","value":4.77},{"s":"Deutschland","date":"1998-08-17","value":4.68},{"s":"Deutschland","date":"1998-08-25","value":4.5},{"s":"Deutschland","date":"1998-09-03","value":4.59},{"s":"Deutschland","date":"1998-09-11","value":4.38},{"s":"Deutschland","date":"1998-09-20","value":4.29},{"s":"Deutschland","date":"1998-09-28","value":4.26},{"s":"Deutschland","date":"1998-10-07","value":4.13},{"s":"Deutschland","date":"1998-10-12","value":4.65},{"s":"Deutschland","date":"1998-10-17","value":4.38},{"s":"Deutschland","date":"1998-10-28","value":4.41},{"s":"Deutschland","date":"1998-11-09","value":4.44},{"s":"Deutschland","date":"1998-11-18","value":4.38},{"s":"Deutschland","date":"1998-11-26","value":4.26},{"s":"Deutschland","date":"1998-12-05","value":4.13},{"s":"Deutschland","date":"1998-12-14","value":4.01},{"s":"Deutschland","date":"1998-12-20","value":4.1},{"s":"Deutschland","date":"1998-12-26","value":4.16},{"s":"Deutschland","date":"1998-12-31","value":3.92},{"s":"Deutschland","date":"1999-01-06","value":4.01}
],
"labels": [
{"label":"Italien","date":"1996-01-31","value":12.42},
{"label":"Spanien","date":"1995-09-21","value":9.675},
{"label":"Frankreich","date":"1995-08-17","value":8.37},
{"label":"Deutschland","date":"1995-09-21","value":5.31}
],
"boxes": [
{"label":"Italien","date":"1995-12-14","date2":"1996-03-21","value":12.11,"value2":12.73},
{"label":"Spanien","date":"1995-07-21","date2":"1995-11-21","value":9.38,"value2":9.97},
{"label":"Frankreich","date":"1995-05-30","date2":"1995-11-04","value":8.06,"value2":8.68},
{"label":"Deutschland","date":"1995-06-21","date2":"1995-12-23","value":5.0,"value2":5.62}
],
"leaders": [
{"label":"Italien","date":"1996-01-31","value":12.11,"date2":"1996-01-03","value2":11.5},
{"label":"Spanien","date":"1995-10-15","value":10.48,"date2":"1995-09-20","value2":10.02},
{"label":"Frankreich","date":"1995-08-16","value":8.05,"date2":"1995-08-08","value2":7.77},
{"label":"Deutschland","date":"1995-09-20","value":6.11,"date2":"1995-09-20","value2":5.61}
]
},
"layer": [
{
"data": {"name": "series"},
"mark": {"type": "line", "strokeWidth": 3.5, "strokeJoin": "round"},
"encoding": {
"x": {"field": "date", "type": "temporal",
"scale": {"type": "utc", "domain": [788624640000, 916151040000]},
"axis": {"title": null, "grid": false,
"tickCount": {"interval": "month", "step": 3},
"labelExpr": "utcmonth(datum.value) == 0 ? 'Jan' : utcmonth(datum.value) == 3 ? 'Apr' : utcmonth(datum.value) == 6 ? ['Jul', utcFormat(datum.value, '%Y')] : 'Okt'",
"labelFontSize": 19, "labelColor": "#444444", "labelLineHeight": 28,
"labelFlush": false, "labelOverlap": false, "labelBound": false,
"tickColor": {"condition": {"test": "utcmonth(datum.value) == 0", "value": "#404040"}, "value": "#aaaaaa"},
"tickSize": {"condition": {"test": "utcmonth(datum.value) == 0", "value": 11}, "value": 5},
"labelPadding": {"condition": {"test": "utcmonth(datum.value) == 0", "value": 9}, "value": 15},
"tickWidth": 2, "domainColor": "#c0c0c0", "domainWidth": 2}},
"y": {"field": "value", "type": "quantitative",
"scale": {"domain": [2.782, 14.264], "nice": false, "zero": false},
"axis": {"title": "%", "titleFontSize": 19, "titleFontWeight": "normal", "titleColor": "#444444", "titlePadding": 5,
"values": [3,4,5,6,7,8,9,10,11,12,13,14],
"labelFontSize": 19, "labelColor": "#444444", "labelPadding": 10,
"tickSize": 11, "tickColor": "#c8c8c8", "tickWidth": 2,
"grid": true, "gridColor": "#c8c8c8", "gridWidth": 2,
"domainColor": "#c0c0c0", "domainWidth": 2}},
"color": {"field": "s", "type": "nominal",
"scale": {"domain": ["Italien","Spanien","Frankreich","Deutschland"], "range": ["#008000","#ff0000","#1f4e7e","#404040"]},
"legend": null}
}
},
{
"data": {"name": "leaders"},
"mark": {"type": "rule", "color": "#aaaaaa", "strokeWidth": 1.5},
"encoding": {
"x": {"field": "date", "type": "temporal"},
"x2": {"field": "date2"},
"y": {"field": "value", "type": "quantitative"},
"y2": {"field": "value2"}
}
},
{
"data": {"name": "boxes"},
"mark": {"type": "rect", "color": "#f2f2f2"},
"encoding": {
"x": {"field": "date", "type": "temporal"},
"x2": {"field": "date2"},
"y": {"field": "value", "type": "quantitative"},
"y2": {"field": "value2"}
}
},
{
"data": {"name": "labels"},
"mark": {"type": "text", "font": "DejaVu Sans", "fontSize": 21, "color": "#111111", "align": "center", "baseline": "middle"},
"encoding": {
"x": {"field": "date", "type": "temporal"},
"y": {"field": "value", "type": "quantitative"},
"text": {"field": "label"}
}
}
]
}
